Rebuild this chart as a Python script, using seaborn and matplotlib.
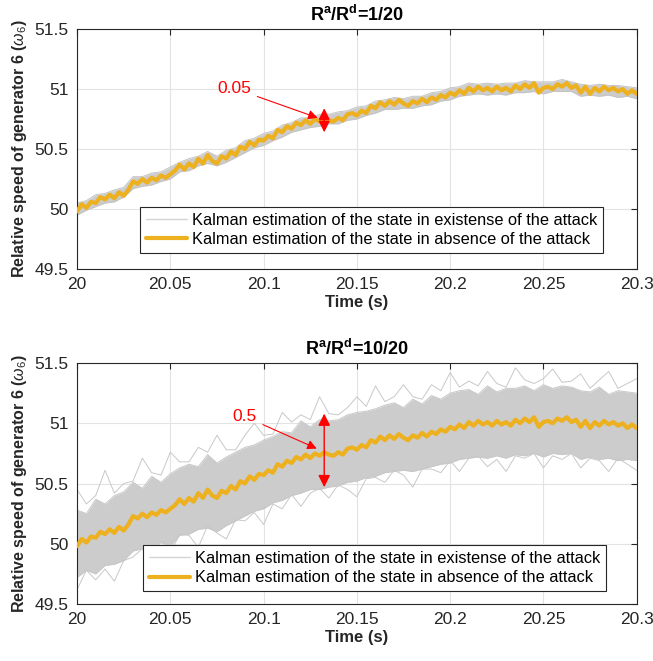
import numpy as np
import pandas as pd
import matplotlib
matplotlib.use("Agg")
import matplotlib.pyplot as plt
from matplotlib.lines import Line2D
import seaborn as sns

# ---------------- data ----------------
t_start = 20.0
fine_step = 0.0025     # sample spacing of the orange trace
coarse_step = 0.005    # sample spacing of the gray envelopes

# Kalman estimate in absence of the attack (same in both panels)
orange = [49.98, 50.04, 50.01, 50.06, 50.05, 50.10, 50.08, 50.12, 50.09, 50.14,
          50.11, 50.16, 50.23, 50.21, 50.25, 50.22, 50.26, 50.24, 50.28, 50.26,
          50.29, 50.32, 50.37, 50.33, 50.38, 50.35, 50.42, 50.38, 50.45, 50.40,
          50.38, 50.44, 50.42, 50.48, 50.45, 50.52, 50.50, 50.56, 50.53, 50.58,
          50.57, 50.61, 50.59, 50.66, 50.64, 50.69, 50.67, 50.72, 50.70, 50.74,
          50.71, 50.75, 50.73, 50.76, 50.74, 50.73, 50.76, 50.74, 50.79, 50.80,
          50.78, 50.82, 50.80, 50.86, 50.84, 50.89, 50.86, 50.90, 50.87, 50.91,
          50.88, 50.86, 50.90, 50.88, 50.92, 50.89, 50.93, 50.91, 50.95, 50.93,
          50.97, 50.95, 50.99, 50.96, 51.01, 50.98, 51.02, 50.99, 51.01, 50.98,
          51.02, 50.99, 51.01, 50.98, 51.03, 51.00, 51.04, 51.01, 51.05, 50.97,
          51.01, 51.02, 51.00, 51.04, 51.02, 51.05, 51.01, 51.03, 50.97, 51.02,
          50.96, 51.01, 50.98, 51.02, 50.99, 51.01, 50.98, 51.00, 50.96, 50.99,
          50.96]

# Top panel (Ra/Rd = 1/20): spread of the attacked estimates
top_hi = [50.05, 50.07, 50.12, 50.13, 50.16, 50.18, 50.27, 50.27, 50.30, 50.31,
          50.35, 50.39, 50.42, 50.44, 50.48, 50.44, 50.49, 50.51, 50.57, 50.59,
          50.63, 50.65, 50.70, 50.72, 50.76, 50.76, 50.79, 50.79, 50.81, 50.82,
          50.85, 50.86, 50.90, 50.91, 50.93, 50.92, 50.94, 50.94, 50.97, 50.98,
          51.01, 51.02, 51.05, 51.04, 51.05, 51.04, 51.05, 51.05, 51.07, 51.06,
          51.06, 51.06, 51.08, 51.06, 51.04, 51.03, 51.04, 51.03, 51.03, 51.02,
          51.01]
top_lo = [49.95, 49.99, 50.02, 50.05, 50.06, 50.10, 50.17, 50.19, 50.20, 50.23,
          50.25, 50.31, 50.32, 50.36, 50.38, 50.36, 50.39, 50.43, 50.47, 50.51,
          50.53, 50.57, 50.60, 50.64, 50.66, 50.68, 50.69, 50.71, 50.71, 50.74,
          50.75, 50.78, 50.80, 50.83, 50.83, 50.84, 50.84, 50.86, 50.87, 50.90,
          50.91, 50.94, 50.95, 50.96, 50.95, 50.96, 50.95, 50.97, 50.97, 50.98,
          50.96, 50.98, 50.98, 50.98, 50.94, 50.95, 50.94, 50.95, 50.93, 50.94,
          50.92]

# Bottom panel (Ra/Rd = 10/20): dense band and spike extremes
band_hi = [50.28, 50.25, 50.37, 50.33, 50.40, 50.43, 50.51, 50.46, 50.56, 50.51,
           50.58, 50.63, 50.66, 50.64, 50.74, 50.67, 50.72, 50.76, 50.80, 50.82,
           50.86, 50.89, 50.93, 50.92, 51.02, 50.97, 51.03, 51.02, 51.03, 51.07,
           51.09, 51.10, 51.12, 51.15, 51.17, 51.13, 51.20, 51.16, 51.23, 51.20,
           51.25, 51.27, 51.28, 51.24, 51.31, 51.26, 51.29, 51.29, 51.31, 51.27,
           51.32, 51.29, 51.31, 51.30, 51.27, 51.26, 51.30, 51.24, 51.27, 51.26,
           51.25]
band_lo = [49.72, 49.78, 49.75, 49.82, 49.83, 49.86, 49.94, 49.96, 49.95, 50.01,
           49.98, 50.07, 50.08, 50.12, 50.13, 50.10, 50.15, 50.19, 50.23, 50.27,
           50.29, 50.34, 50.36, 50.40, 50.42, 50.45, 50.45, 50.47, 50.48, 50.51,
           50.52, 50.55, 50.56, 50.59, 50.60, 50.61, 50.60, 50.62, 50.64, 50.66,
           50.67, 50.70, 50.71, 50.72, 50.71, 50.73, 50.71, 50.74, 50.73, 50.75,
           50.72, 50.75, 50.74, 50.75, 50.70, 50.72, 50.70, 50.71, 50.69, 50.70,
           50.69]
spike_hi = [50.45, 50.33, 50.40, 50.61, 50.42, 50.50, 50.52, 50.71, 50.59, 50.57,
            50.76, 50.68, 50.68, 50.80, 50.76, 50.90, 50.78, 50.78, 50.90, 51.00,
            50.90, 50.91, 51.09, 51.01, 51.07, 51.03, 51.22, 51.08, 51.07, 51.13,
            51.22, 51.14, 51.31, 51.18, 51.22, 51.32, 51.22, 51.20, 51.32, 51.27,
            51.42, 51.30, 51.35, 51.31, 51.43, 51.33, 51.30, 51.46, 51.36, 51.33,
            51.37, 51.45, 51.34, 51.35, 51.41, 51.29, 51.36, 51.43, 51.29, 51.33,
            51.37]
spike_lo = [49.62, 49.78, 49.70, 49.79, 49.69, 49.86, 49.89, 49.96, 49.80, 49.98,
            49.92, 50.08, 50.07, 49.97, 50.15, 50.09, 50.04, 50.20, 50.19, 50.26,
            50.16, 50.33, 50.29, 50.41, 50.31, 50.42, 50.46, 50.38, 50.49, 50.45,
            50.39, 50.54, 50.55, 50.51, 50.61, 50.57, 50.47, 50.62, 50.62, 50.59,
            50.69, 50.60, 50.71, 50.73, 50.64, 50.70, 50.60, 50.73, 50.71, 50.75,
            50.63, 50.73, 50.70, 50.75, 50.63, 50.71, 50.69, 50.60, 50.71, 50.66,
            50.61]

titles = ["R$^{\\mathbf{a}}$/R$^{\\mathbf{d}}$=1/20",
          "R$^{\\mathbf{a}}$/R$^{\\mathbf{d}}$=10/20"]
arrow_labels = ["0.05", "0.5"]
xticks = [20, 20.05, 20.1, 20.15, 20.2, 20.25, 20.3]
xtick_labels = ["20", "20.05", "20.1", "20.15", "20.2", "20.25", "20.3"]
yticks = [49.5, 50, 50.5, 51, 51.5]
ytick_labels = ["49.5", "50", "50.5", "51", "51.5"]
legend_labels = ["Kalman estimation of the state in existense of the attack",
                 "Kalman estimation of the state in absence of the attack"]

# ---------------- styling ----------------
sns.set_theme(style="whitegrid")
plt.rcParams["font.family"] = ["Liberation Sans", "DejaVu Sans"]
plt.rcParams["mathtext.fontset"] = "custom"
plt.rcParams["mathtext.rm"] = "Liberation Sans"
plt.rcParams["mathtext.bf"] = "Liberation Sans:bold"
plt.rcParams["mathtext.it"] = "Liberation Sans:italic"

ORANGE = "#EDB120"
GRAY = "#cccccc"
TXT = "#262626"

t_fine = t_start + fine_step * np.arange(len(orange))
t_coarse = t_start + coarse_step * np.arange(len(top_hi))

df_orange = pd.DataFrame({"t": t_fine, "v": orange})

fig = plt.figure(figsize=(6.53, 6.61), dpi=100)
ax_top = fig.add_axes([0.118, 0.593, 0.857, 0.363])
ax_bot = fig.add_axes([0.118, 0.0862, 0.857, 0.3646])


def style_axes(ax, title):
    ax.set_xlim(20, 20.3)
    ax.set_ylim(49.5, 51.5)
    ax.set_xticks(xticks)
    ax.set_xticklabels(xtick_labels)
    ax.set_yticks(yticks)
    ax.set_yticklabels(ytick_labels)
    ax.set_facecolor("white")
    ax.grid(True, color="#e3e3e3", lw=0.8)
    for s in ax.spines.values():
        s.set_color(TXT)
        s.set_linewidth(0.8)
        s.set_visible(True)
    ax.tick_params(direction="in", top=True, right=True, length=4,
                   width=0.8, color=TXT, labelcolor=TXT, labelsize=12.5, pad=6)
    ax.set_title(title, fontsize=13, fontweight="bold", color="black", pad=6)
    ax.set_xlabel("Time (s)", fontsize=12, fontweight="bold", color=TXT, labelpad=2)
    ax.set_ylabel("Relative speed of generator 6 ($\\omega_6$)", fontsize=11.5,
                  fontweight="bold", color=TXT, labelpad=4)


# ---- top panel ----
ax = ax_top
ax.fill_between(t_coarse, top_lo, top_hi, color=GRAY, lw=0, zorder=2)
sns.lineplot(x=t_coarse, y=top_hi, ax=ax, color="#c4c4c4", lw=0.7,
             estimator=None, zorder=2)
sns.lineplot(x=t_coarse, y=top_lo, ax=ax, color="#c4c4c4", lw=0.7,
             estimator=None, zorder=2)
sns.lineplot(data=df_orange, x="t", y="v", ax=ax, color=ORANGE, lw=3.0,
             estimator=None, zorder=3)
style_axes(ax, titles[0])
ax.annotate("", xy=(20.1325, 50.64), xytext=(20.1325, 50.84),
            arrowprops=dict(arrowstyle="<|-|>", color="red", lw=1.0,
                            mutation_scale=17, shrinkA=0, shrinkB=0), zorder=5)
ax.annotate(arrow_labels[0], xy=(20.129, 50.76), xytext=(20.0935, 51.005),
            color="red", fontsize=12.5, ha="right", va="center",
            arrowprops=dict(arrowstyle="-|>", color="red", lw=0.8,
                            mutation_scale=14, shrinkA=2, shrinkB=0), zorder=5)

# ---- bottom panel ----
ax = ax_bot
ax.fill_between(t_coarse, band_lo, band_hi, color=GRAY, lw=0, zorder=2)
for arr in (spike_hi, spike_lo, band_hi, band_lo):
    sns.lineplot(x=t_coarse, y=arr, ax=ax, color="#c8c8c8", lw=0.7,
                 estimator=None, zorder=2)
sns.lineplot(data=df_orange, x="t", y="v", ax=ax, color=ORANGE, lw=3.0,
             estimator=None, zorder=3)
style_axes(ax, titles[1])
ax.annotate("", xy=(20.1325, 50.47), xytext=(20.1325, 51.08),
            arrowprops=dict(arrowstyle="<|-|>", color="red", lw=1.0,
                            mutation_scale=18, shrinkA=0, shrinkB=0), zorder=5)
ax.annotate(arrow_labels[1], xy=(20.1285, 50.79), xytext=(20.0965, 51.055),
            color="red", fontsize=12.5, ha="right", va="center",
            arrowprops=dict(arrowstyle="-|>", color="red", lw=0.8,
                            mutation_scale=14, shrinkA=2, shrinkB=0), zorder=5)

# ---- legends ----
handles = [Line2D([], [], color="#d4d4d4", lw=1.0),
           Line2D([], [], color=ORANGE, lw=3.0)]
for ax, anchor in ((ax_top, (0.939, 0.067)), (ax_bot, (0.9445, 0.054))):
    leg = ax.legend(handles, legend_labels, loc="lower right",
                    bbox_to_anchor=anchor, fontsize=11.8, frameon=True,
                    fancybox=False, framealpha=1, edgecolor=TXT,
                    handlelength=2.5, handletextpad=0.3, borderpad=0.35,
                    labelspacing=0.25, borderaxespad=0)
    leg.get_frame().set_linewidth(0.8)
    for txt in leg.get_texts():
        txt.set_color("black")

fig.savefig("out.png", dpi=100)
